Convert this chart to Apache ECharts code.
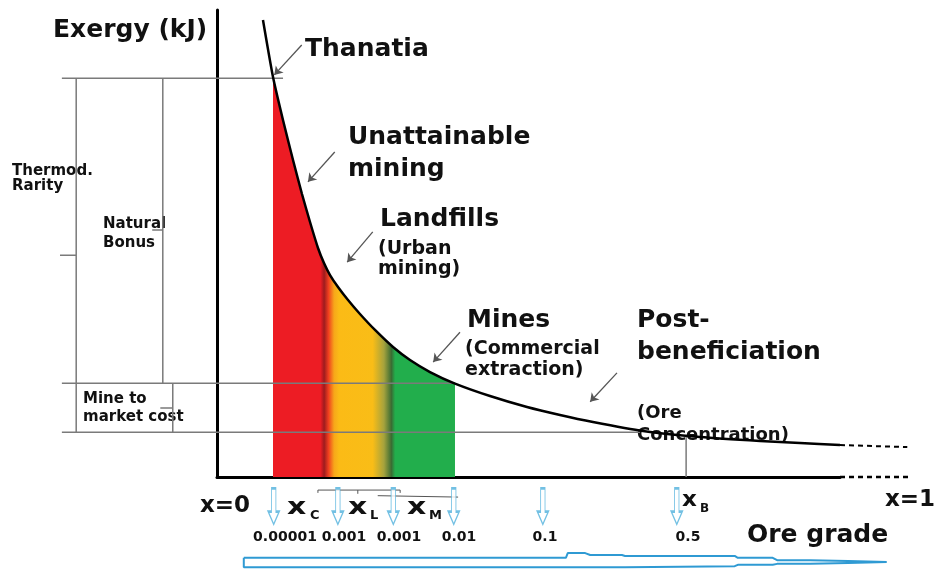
<!DOCTYPE html>
<html>
<head>
<meta charset="utf-8">
<script src="https://cdn.jsdelivr.net/npm/echarts@6/dist/echarts.min.js"></script>
<style>
html, body { margin: 0; padding: 0; background: #fff; }
#chart1 { width: 935px; height: 569px; }
</style>
</head>
<body>
<div id="chart1"></div>
<script>
//schematic units: x = ore grade position (0..100 along axis), y = exergy (0..100)

//exergy curve
var curveX = [7.38, 8.99, 10.59, 12.20, 13.64, 14.93, 16.21, 17.17, 18.14, 19.42, 21.03, 22.95, 25.36, 28.25, 30.98, 34.19, 38.2,
	43.82, 49.76, 55.06, 60.35, 68.38, 77.53, 87.16, 93.58, 100];
var curveY = [97.86, 85.65, 76.45, 67.88, 60.60, 54.60, 49.04, 45.82, 43.25, 40.69, 37.90, 34.90, 31.48, 27.84, 25.05, 22.48, 20.0,
	17.34, 14.99, 13.28, 11.78, 9.85, 8.57, 7.71, 7.28, 6.85];
var tailX = [100, 110.8];
var tailY = [6.85, 6.4];
var axisTailX = [100, 111.2];

//coloured band under the curve (red -> yellow -> green)
var fillFrom = 8.99;
var fillTo = 38.2;

//reference levels
var levelNames = ["Thanatia", "Mine", "Market"];
var levelY = [85.4, 20.1, 9.6];
var levelStart = -24.9;
var levelEnd = [10.6, 38.2, 67.9];
var xB = 75.3;
var xBTop = 8.8;

//braces on the left
var braceNames = ["Thermod. Rarity", "Natural Bonus", "Mine to market cost"];
var braceX = [-22.6, -8.7, -7.1];
var braceTop = [85.4, 85.4, 20.1];
var braceBottom = [9.6, 20.1, 9.6];
var braceMid = [47.5, 52.9, 14.8];
var braceTick = [-25.2, -10.4, -9.1];

//annotation arrows
var arrowFrom = [[13.6, 92.5], [18.9, 69.6], [25.0, 52.5], [39.0, 31.0], [64.2, 22.3]];
var arrowTo = [[9.2, 86.1], [14.6, 63.2], [20.9, 46.0], [34.7, 24.6], [59.9, 16.1]];

//ore grade markers
var gradeX = [9.1, 19.4, 28.3, 38.0, 52.3, 73.8];
var gradeY = -6.3;
var gradeLabels = ["0.00001", "0.001", "0.001", "0.01", "0.1", "0.5"];
var gradeLabelPx = [285, 344, 399, 459, 545, 688];

//ranges under the axis (x_L, x_M)
var rangeL = [16.2, 29.4, 22.6];
var rangeM = [25.8, 38.7];

//big ore grade arrow (outline)
var bandX = [4.3, 56.0, 56.3, 59.1, 59.9, 65.0, 65.5, 83.1, 83.6, 89.2, 89.9, 95.2, 95.2, 101.3, 101.3, 107.5,
	107.5, 101.3, 101.3, 95.2, 89.9, 89.2, 83.6, 83.1, 65.5, 4.3, 4.3];
var bandY = [-17.3, -17.3, -16.3, -16.3, -16.7, -16.7, -16.9, -16.9, -17.3, -17.3, -17.8, -17.8, -18.0, -18.0, -18.2, -18.2,
	-18.4, -18.4, -18.6, -18.6, -18.6, -18.8, -18.8, -19.1, -19.3, -19.3, -17.3];

/**********************************************/
var chart = echarts.init(document.getElementById("chart1"));

var FONT = '"DejaVu Sans", sans-serif';
var W = 935, H = 569;
var G = { left: 217, right: 95, top: 10, bottom: 92 };

//full-canvas grid with the same scale, so marks outside the axes can be drawn
var pxX = (W - G.left - G.right) / 100;
var pxY = (H - G.top - G.bottom) / 100;
var fullX = [-G.left / pxX, 100 + G.right / pxX];
var fullY = [-G.bottom / pxY, 100 + G.top / pxY];

function zip(xs, ys) {
	var out = [];
	for (var i = 0; i < xs.length; i++) out.push([xs[i], ys[i]]);
	return out;
}

//plain polyline
function seg(data, color, width, type) {
	return {
		type: "line",
		xAxisIndex: 1,
		yAxisIndex: 1,
		data: data,
		showSymbol: false,
		symbol: "none",
		silent: true,
		z: 4,
		lineStyle: { color: color, width: width, type: type || "solid" }
	};
}

//text helper
function txt(s, x, y, size, align, sx) {
	return {
		type: "text",
		x: x,
		y: y,
		scaleX: sx || 1,
		silent: true,
		style: {
			text: s,
			font: "bold " + size + "px " + FONT,
			fill: "#111",
			align: align || "left",
			verticalAlign: "middle"
		}
	};
}

//gradient stop at a given x inside the coloured band
function stop(x, color) {
	return { offset: (x - fillFrom) / (fillTo - fillFrom), color: color };
}

var series = [];

//coloured area
var fillData = [];
for (let i = 0; i < curveX.length; i++) {
	if (curveX[i] >= fillFrom && curveX[i] <= fillTo) fillData.push([curveX[i], curveY[i]]);
}
series.push({
	type: "line",
	xAxisIndex: 1,
	yAxisIndex: 1,
	data: fillData,
	smooth: 0.2,
	showSymbol: false,
	symbol: "none",
	silent: true,
	z: 1,
	lineStyle: { width: 0 },
	areaStyle: {
		opacity: 1,
		origin: 0,
		color: new echarts.graphic.LinearGradient(0, 0, 1, 0, [
			stop(fillFrom, "#ed1c24"),
			stop(16.6, "#ed1c24"),
			stop(17.2, "#9e1b1e"),
			stop(17.9, "#f0401f"),
			stop(18.8, "#f7a71a"),
			stop(19.6, "#fbbb16"),
			stop(25.0, "#f9bd17"),
			stop(26.8, "#a5a23d"),
			stop(28.0, "#3a6b33"),
			stop(28.6, "#22ae4c"),
			stop(fillTo, "#22ae4c")
		])
	}
});

//reference levels
for (let i = 0; i < levelY.length; i++) {
	series.push(seg([[levelStart, levelY[i]], [levelEnd[i], levelY[i]]], "#7a7a7a", 1.5));
}
series.push(seg([[xB, 0], [xB, xBTop]], "#7a7a7a", 1.5));

//braces
for (let i = 0; i < braceX.length; i++) {
	series.push(seg([
		[braceX[i], braceTop[i]],
		[braceX[i], braceMid[i]],
		[braceTick[i], braceMid[i]],
		[braceX[i], braceMid[i]],
		[braceX[i], braceBottom[i]]
	], "#7a7a7a", 1.5));
}

//curve
var curve = seg(zip(curveX, curveY), "#000", 2.5);
curve.smooth = 0.2;
curve.z = 6;
series.push(curve);
series.push(seg(zip(tailX, tailY), "#000", 2, [5, 4]));
series.push(seg([[axisTailX[0], 0], [axisTailX[1], 0]], "#000", 2.5, [5, 4]));

//ranges under axis
series.push(seg([[rangeL[0], -3.4], [rangeL[0], -2.8], [rangeL[1], -2.8], [rangeL[1], -3.4]], "#555", 1));
series.push(seg([[rangeL[2], -2.8], [rangeL[2], -3.6]], "#555", 1));
series.push(seg([[rangeM[0], -4.0], [rangeM[0], -4.3], [rangeM[1], -4.3]], "#555", 1));

//big ore grade arrow
series.push(seg(zip(bandX, bandY), "#2f9ad3", 2));

//grade markers
series.push({
	type: "scatter",
	xAxisIndex: 1,
	yAxisIndex: 1,
	data: gradeX.map(function (x) { return [x, gradeY]; }),
	symbol: "path://M3,0 L7,0 L7,22 L10,22 L5,34 L0,22 L3,22 Z",
	symbolSize: [11, 36],
	silent: true,
	z: 5,
	itemStyle: { color: "#fff", borderColor: "#4fb0dc", borderWidth: 1.5 }
});

//annotation arrows
series.push({
	type: "lines",
	coordinateSystem: "cartesian2d",
	xAxisIndex: 1,
	yAxisIndex: 1,
	symbol: ["none", "arrow"],
	symbolSize: 8,
	silent: true,
	z: 6,
	lineStyle: { color: "#555", width: 1.3, opacity: 1 },
	data: arrowFrom.map(function (p, i) { return { coords: [p, arrowTo[i]] }; })
});

var graphics = [
	txt("Exergy (kJ)", 53, 30.6, 25),
	txt("Thanatia", 305, 49.6, 25),
	txt("Unattainable", 348, 137.6, 25),
	txt("mining", 348, 169.6, 25),
	txt("Landfills", 380, 219.6, 25),
	txt("(Urban", 378, 249.4, 19),
	txt("mining)", 378, 269.4, 19),
	txt("Mines", 467, 320.6, 25),
	txt("(Commercial", 465, 349.4, 19),
	txt("extraction)", 465, 370.4, 19),
	txt("Post-", 637, 320.6, 25),
	txt("beneficiation", 637, 352.6, 25),
	txt("(Ore", 637, 413.7, 18),
	txt("Concentration)", 637, 435.7, 18),
	txt("Thermod.", 12, 171.5, 15),
	txt("Rarity", 12, 186.5, 15),
	txt("Natural", 103, 224.5, 15),
	txt("Bonus", 103, 243.5, 15),
	txt("Mine to", 83, 399.5, 15),
	txt("market cost", 83, 417.5, 15),
	txt("x=0", 200, 506.2, 23),
	txt("x", 287, 508, 23, "left", 1.3), txt("C", 310, 516, 13),
	txt("x", 348, 508, 23, "left", 1.3), txt("L", 370, 516, 13),
	txt("x", 407, 508, 23, "left", 1.3), txt("M", 429, 516, 13),
	txt("x", 682, 501, 21, "left", 1.1), txt("B", 700, 508.5, 12),
	txt("x=1", 885, 500, 23),
	txt("Ore grade", 747, 535.6, 25)
];
for (let i = 0; i < gradeLabels.length; i++) {
	graphics.push(txt(gradeLabels[i], gradeLabelPx[i], 537.8, 14, "center"));
}

var hiddenAxis = {
	show: false,
	type: "value",
	axisLine: { show: false },
	axisTick: { show: false },
	axisLabel: { show: false },
	splitLine: { show: false }
};

var option = {
	animation: false,
	backgroundColor: "#fff",
	grid: [
		G,
		{ left: 0, right: 0, top: 0, bottom: 0 }
	],
	xAxis: [{
		type: "value",
		gridIndex: 0,
		min: 0,
		max: 100,
		axisLine: { show: true, onZero: false, lineStyle: { color: "#000", width: 3 } },
		axisTick: { show: false },
		axisLabel: { show: false },
		splitLine: { show: false }
	}, Object.assign({}, hiddenAxis, { gridIndex: 1, min: fullX[0], max: fullX[1] })],
	yAxis: [{
		type: "value",
		gridIndex: 0,
		min: 0,
		max: 100,
		axisLine: { show: true, onZero: false, lineStyle: { color: "#000", width: 3 } },
		axisTick: { show: false },
		axisLabel: { show: false },
		splitLine: { show: false }
	}, Object.assign({}, hiddenAxis, { gridIndex: 1, min: fullY[0], max: fullY[1] })],
	series: series,
	graphic: graphics
};

chart.setOption(option);
</script>
</body>
</html>
